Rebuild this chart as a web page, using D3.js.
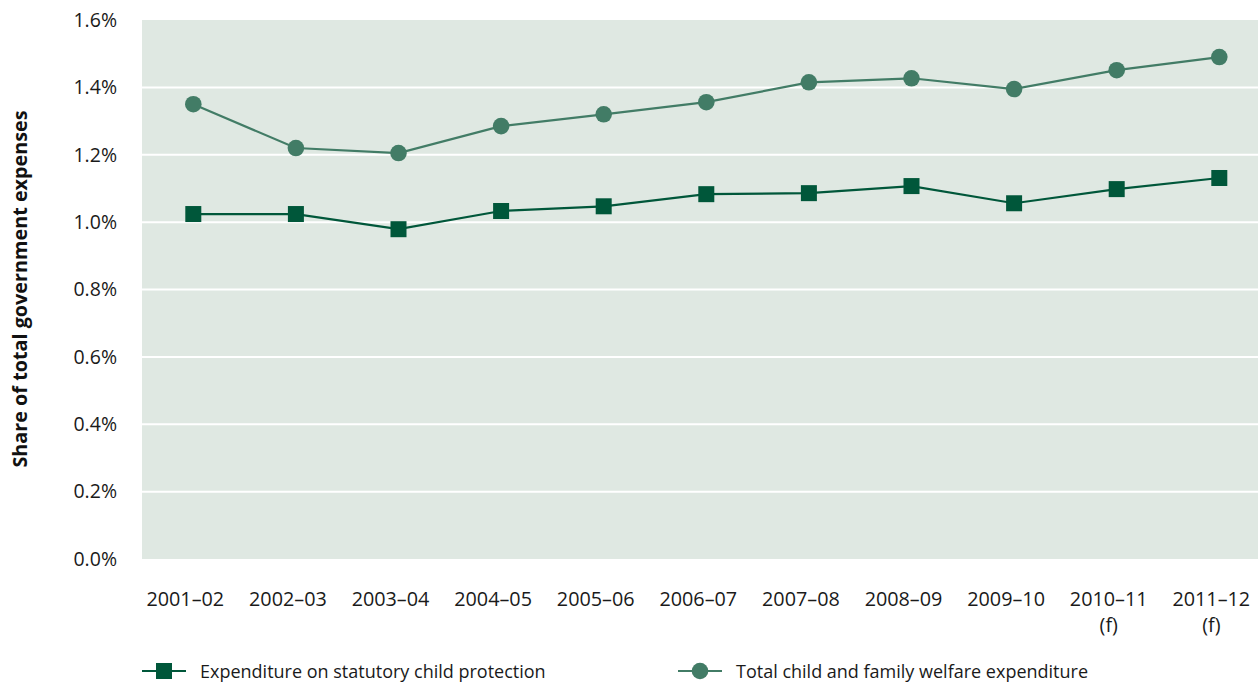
<!DOCTYPE html>
<html>
<head>
<meta charset="utf-8">
<script src="https://cdn.jsdelivr.net/npm/d3@7"></script>
<style>
  html, body { margin: 0; padding: 0; background: #fff; }
  svg { display: block; }
  svg text { font-family: "Open Sans", "Noto Sans", sans-serif; }
</style>
</head>
<body>
<svg id="chart" width="1258" height="684"></svg>
<script>
// Financial years (f = forecast)
const years = ["2001–02", "2002–03", "2003–04", "2004–05", "2005–06", "2006–07",
               "2007–08", "2008–09", "2009–10", "2010–11\n(f)", "2011–12\n(f)"];
// Share of total government expenses, %
const statutoryProtection = [1.024, 1.024, 0.979, 1.033, 1.047, 1.083, 1.086, 1.107, 1.056, 1.098, 1.131];
const totalWelfare        = [1.350, 1.220, 1.205, 1.285, 1.320, 1.356, 1.415, 1.427, 1.395, 1.451, 1.490];
const yTicks = [0, 0.2, 0.4, 0.6, 0.8, 1.0, 1.2, 1.4, 1.6];
const seriesNames = ["Expenditure on statutory child protection", "Total child and family welfare expenditure"];

const svg = d3.select("#chart");
const plot = { left: 142, right: 1258, top: 20, bottom: 559 };

const x = d3.scaleBand().domain(years).range([plot.left, plot.left + 11 * 102.6]);
const y = d3.scaleLinear().domain([0, 1.6]).range([plot.bottom, plot.top]);

const cSquare = "#00573a";
const cCircle = "#427c66";
const textColor = "#1a1a1a";

// panel background
svg.append("rect")
  .attr("x", plot.left).attr("y", plot.top)
  .attr("width", plot.right - plot.left).attr("height", plot.bottom - plot.top)
  .attr("fill", "#dfe8e2");

// horizontal gridlines
svg.append("g").selectAll("line")
  .data(yTicks.filter(d => d > 0 && d < 1.6))
  .join("line")
  .attr("x1", plot.left).attr("x2", plot.right)
  .attr("y1", d => y(d)).attr("y2", d => y(d))
  .attr("stroke", "#ffffff").attr("stroke-width", 2);

// y axis labels
const yAxis = d3.axisLeft(y).tickValues(yTicks).tickSize(0).tickPadding(0)
  .tickFormat(d => d.toFixed(1) + "%");
svg.append("g")
  .attr("transform", `translate(117,0)`)
  .call(yAxis)
  .call(g => g.select(".domain").remove())
  .call(g => g.selectAll("text").attr("font-size", 19.5).attr("fill", textColor));

// y axis title
svg.append("text")
  .attr("transform", `translate(27,289) rotate(-90)`)
  .attr("text-anchor", "middle")
  .attr("font-size", 19.8).attr("font-weight", "bold").attr("fill", "#111")
  .text("Share of total government expenses");

// x axis labels (two-line for forecasts), set slightly left of the markers
const xAxis = d3.axisBottom(x).tickSize(0).tickPadding(0).tickFormat("");
const xg = svg.append("g").attr("transform", `translate(0,${plot.bottom})`).call(xAxis);
xg.select(".domain").remove();
xg.selectAll(".tick").each(function(d) {
  const t = d3.select(this).append("text")
    .attr("text-anchor", "middle").attr("fill", textColor)
    .attr("font-size", 19.8).attr("y", 47);
  d.split("\n").forEach((line, i) => {
    t.append("tspan").attr("x", -8).attr("dy", i === 0 ? 0 : 26).text(line);
  });
});

const cx = d => x(d) + x.bandwidth() / 2;
const line = d3.line().x((d, i) => cx(years[i])).y(d => y(d));

// total welfare series: line + circles
svg.append("path").datum(totalWelfare)
  .attr("d", line).attr("fill", "none")
  .attr("stroke", cCircle).attr("stroke-width", 2.2);
svg.append("g").selectAll("circle").data(totalWelfare).join("circle")
  .attr("cx", (d, i) => cx(years[i])).attr("cy", d => y(d))
  .attr("r", 8.3).attr("fill", cCircle);

// statutory protection series: line + squares
svg.append("path").datum(statutoryProtection)
  .attr("d", line).attr("fill", "none")
  .attr("stroke", cSquare).attr("stroke-width", 2.2);
svg.append("g").selectAll("rect").data(statutoryProtection).join("rect")
  .attr("x", (d, i) => cx(years[i]) - 8).attr("y", d => y(d) - 8)
  .attr("width", 16).attr("height", 16).attr("fill", cSquare);

// legend
const legend = svg.append("g").attr("transform", "translate(0,671)");
const items = [
  { name: seriesNames[0], color: cSquare, shape: "square", x0: 142 },
  { name: seriesNames[1], color: cCircle, shape: "circle", x0: 678 }
];
items.forEach(it => {
  const g = legend.append("g").attr("transform", `translate(${it.x0},0)`);
  g.append("line").attr("x1", 0).attr("x2", 44).attr("y1", 0).attr("y2", 0)
    .attr("stroke", it.color).attr("stroke-width", 2.2);
  if (it.shape === "square") {
    g.append("rect").attr("x", 14).attr("y", -8).attr("width", 16).attr("height", 16).attr("fill", it.color);
  } else {
    g.append("circle").attr("cx", 22).attr("cy", 0).attr("r", 8.3).attr("fill", it.color);
  }
  g.append("text").attr("x", 58).attr("y", 6.5)
    .attr("font-size", 18).attr("fill", textColor).text(it.name);
});
</script>
</body>
</html>
